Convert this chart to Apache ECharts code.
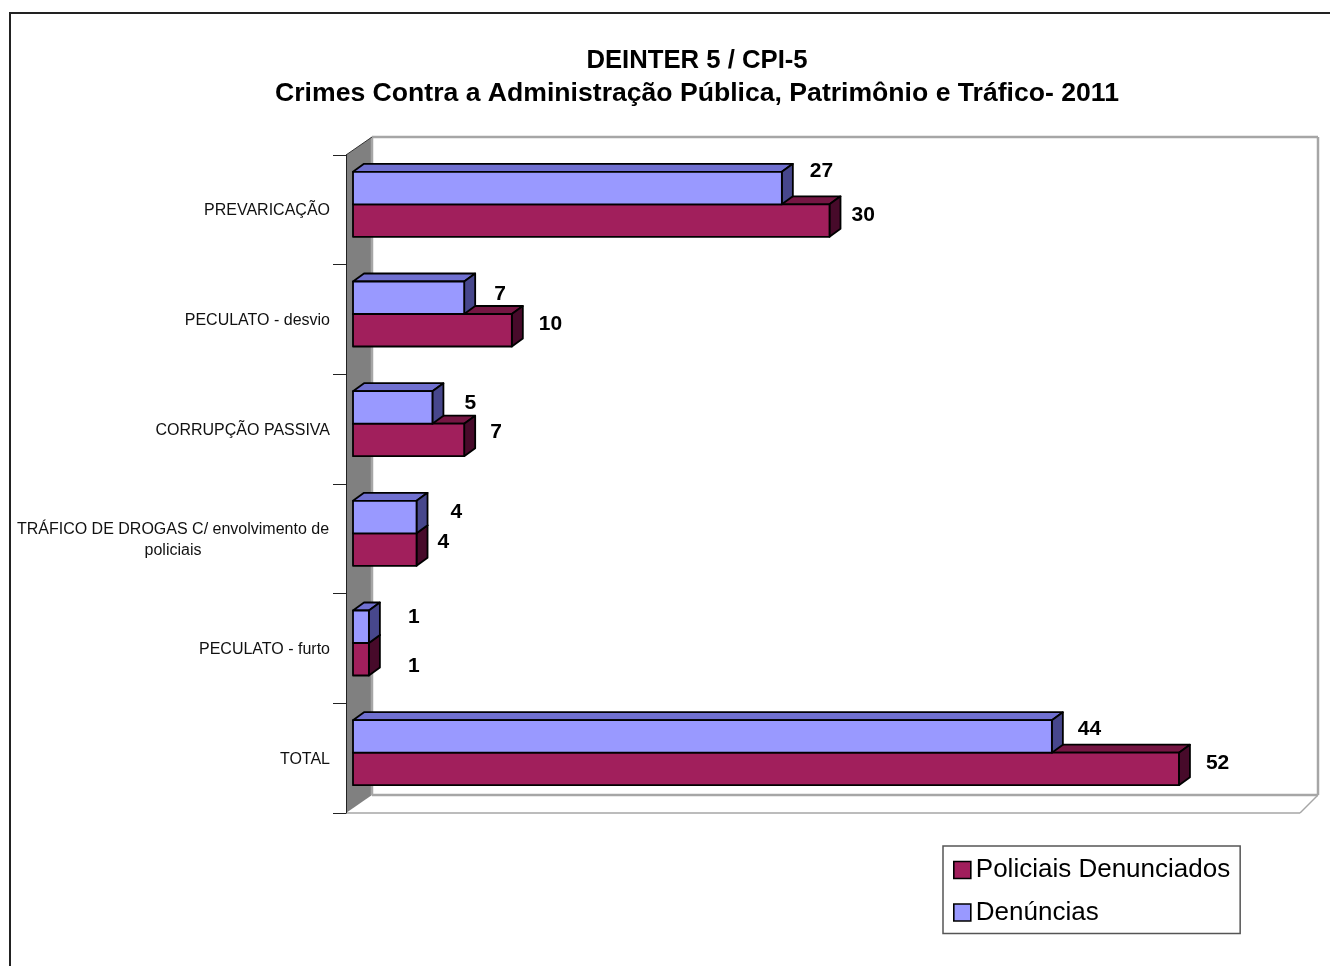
<!DOCTYPE html>
<html>
<head>
<meta charset="utf-8">
<title>DEINTER 5 / CPI-5</title>
<script src="https://cdn.jsdelivr.net/npm/echarts@6/dist/echarts.min.js"></script>
<style>
  html, body { margin: 0; padding: 0; background: #fff; }
  #chart { width: 1330px; height: 966px; }
</style>
</head>
<body>
<div id="chart"></div>
<script>
var categories = [
  'PREVARICAÇÃO',
  'PECULATO - desvio',
  'CORRUPÇÃO PASSIVA',
  'TRÁFICO DE DROGAS C/ envolvimento de\npoliciais',
  'PECULATO - furto',
  'TOTAL'
];
var policiaisDenunciados = [30, 10, 7, 4, 1, 52];
var denuncias = [27, 7, 5, 4, 1, 44];

// the data labels were dragged by hand in the original, so each one has its own nudge
var redLabelNudge = [[22, -5], [27, -6], [26, -8], [21, -7], [39, 7], [27, -6]];
var blueLabelNudge = [[28, -17], [30, -4], [32, -4], [34, -5], [39, -10], [26, -7]];

var FONT = '"Liberation Sans", Arial, sans-serif';
var DEPTH_X = 11, DEPTH_Y = 8;
var BAR_H = 32.5;
var BAR_SHIFT = -5.5;

var RED = { front: '#a11f5c', top: '#751643', side: '#470a2a' };
var BLUE = { front: '#9999ff', top: '#7070d0', side: '#47478c' };

function poly(points, fill) {
  return {
    type: 'polygon',
    shape: { points: points },
    style: { fill: fill, stroke: '#000', lineWidth: 1.8, lineJoin: 'round' }
  };
}

function barRenderer(colors, nudges, upper) {
  return function(params, api) {
    var i = api.value(1);
    var end = api.coord([api.value(0), i]);
    var start = api.coord([0, i]);
    var y0 = end[1] + BAR_SHIFT + (upper ? -BAR_H : 0);
    var y1 = y0 + BAR_H;
    var x0 = start[0], x1 = end[0];
    var dx = DEPTH_X, dy = DEPTH_Y;
    return {
      type: 'group',
      children: [
        poly([[x0, y0], [x0 + dx, y0 - dy], [x1 + dx, y0 - dy], [x1, y0]], colors.top),
        poly([[x1, y0], [x1 + dx, y0 - dy], [x1 + dx, y1 - dy], [x1, y1]], colors.side),
        poly([[x0, y0], [x1, y0], [x1, y1], [x0, y1]], colors.front),
        {
          type: 'text',
          style: {
            text: String(api.value(0)),
            x: x1 + nudges[i][0],
            y: (y0 + y1) / 2 + nudges[i][1],
            font: 'bold 21px ' + FONT,
            fill: '#000',
            textAlign: 'left',
            textVerticalAlign: 'middle'
          }
        }
      ]
    };
  };
}

function wallRenderer(params) {
  var g = params.coordSys;
  var left = g.x - 7, right = g.x + g.width - 6;
  var top = g.y, bottom = g.y + g.height;
  var dx = 26, dy = 18, rdx = 18;
  var edge = { stroke: '#a6a6a6', lineWidth: 2.5 };
  function line(x1, y1, x2, y2, style) {
    return { type: 'line', shape: { x1: x1, y1: y1, x2: x2, y2: y2 }, style: style };
  }
  return {
    type: 'group',
    silent: true,
    children: [
      { type: 'polygon',
        shape: { points: [[left, top], [left + dx, top - dy], [left + dx, bottom - dy], [left, bottom]] },
        style: { fill: '#808080', stroke: 'none' } },
      line(left + dx, top - dy, right + rdx, top - dy, edge),
      line(right + rdx, top - dy, right + rdx, bottom - dy, edge),
      line(left + dx, bottom - dy, right + rdx, bottom - dy, edge),
      line(left + dx, top - dy, left + dx, bottom - dy, edge),
      line(left, bottom, right, bottom, { stroke: '#a6a6a6', lineWidth: 1.5 }),
      line(right, bottom, right + rdx, bottom - dy, { stroke: '#a6a6a6', lineWidth: 1.5 }),
      line(left, top, left + dx, top - dy, { stroke: '#333', lineWidth: 1 })
    ]
  };
}

var redData = policiaisDenunciados.map(function(v, i) { return [v, i]; });
var blueData = denuncias.map(function(v, i) { return [v, i]; });

var option = {
  backgroundColor: '#fff',
  animation: false,
  title: {
    text: '{a|DEINTER 5 / CPI-5}\n{b|Crimes Contra a Administração Pública, Patrimônio e Tráfico- 2011}',
    left: 692,
    top: 39,
    textAlign: 'center',
    textStyle: {
      rich: {
        a: { fontFamily: FONT, fontSize: 25.7, fontWeight: 'bold', lineHeight: 33, color: '#000' },
        b: { fontFamily: FONT, fontSize: 26.6, fontWeight: 'bold', lineHeight: 33, color: '#000' }
      }
    }
  },
  graphic: [{
    type: 'rect',
    silent: true,
    shape: { x: 10, y: 13, width: 1400, height: 1000 },
    style: { fill: 'none', stroke: '#222', lineWidth: 2 },
    z: -10
  }],
  legend: {
    orient: 'vertical',
    left: 943,
    top: 846,
    padding: [11, 10, 8, 10],
    itemGap: 16.5,
    itemWidth: 17,
    itemHeight: 17,
    borderColor: '#555',
    borderWidth: 1.5,
    backgroundColor: '#fff',
    selectedMode: false,
    textStyle: { fontFamily: FONT, fontSize: 26, color: '#000' },
    data: [
      { name: 'Policiais Denunciados', icon: 'rect',
        itemStyle: { color: RED.front, borderColor: '#000', borderWidth: 1.6 } },
      { name: 'Denúncias', icon: 'rect',
        itemStyle: { color: BLUE.front, borderColor: '#000', borderWidth: 1.6 } }
    ]
  },
  grid: { left: 353, top: 155, width: 953, height: 658, containLabel: false },
  xAxis: { type: 'value', min: 0, max: 60, show: false },
  yAxis: {
    type: 'category',
    inverse: true,
    data: categories,
    offset: 7,
    z: 5,
    axisLine: { show: true, onZero: false, lineStyle: { color: '#222', width: 1 } },
    axisTick: { show: true, length: 13, lineStyle: { color: '#222', width: 1 } },
    axisLabel: {
      margin: 16,
      interval: 0,
      fontFamily: FONT,
      fontSize: 16,
      color: '#111',
      lineHeight: 21,
      padding: [2, 0, 0, 0],
      formatter: function(v) {
        if (v.indexOf('\n') < 0) return v;
        return v.split('\n').map(function(s) { return '{c|' + s + '}'; }).join('\n');
      },
      rich: { c: { width: 314, align: 'center', fontFamily: FONT, fontSize: 16, lineHeight: 21, color: '#111' } }
    }
  },
  series: [
    { name: 'wall', type: 'custom', data: [[0, 0]], renderItem: wallRenderer, z: 1, silent: true, encode: { x: 0, y: 1 } },
    { name: 'Policiais Denunciados', type: 'custom', data: redData, renderItem: barRenderer(RED, redLabelNudge, false),
      encode: { x: 0, y: 1 }, z: 6, itemStyle: { color: RED.front } },
    { name: 'Denúncias', type: 'custom', data: blueData, renderItem: barRenderer(BLUE, blueLabelNudge, true),
      encode: { x: 0, y: 1 }, z: 7, itemStyle: { color: BLUE.front } }
  ]
};

var myChart = echarts.init(document.getElementById('chart'), null, { renderer: 'canvas' });
myChart.setOption(option);
</script>
</body>
</html>
